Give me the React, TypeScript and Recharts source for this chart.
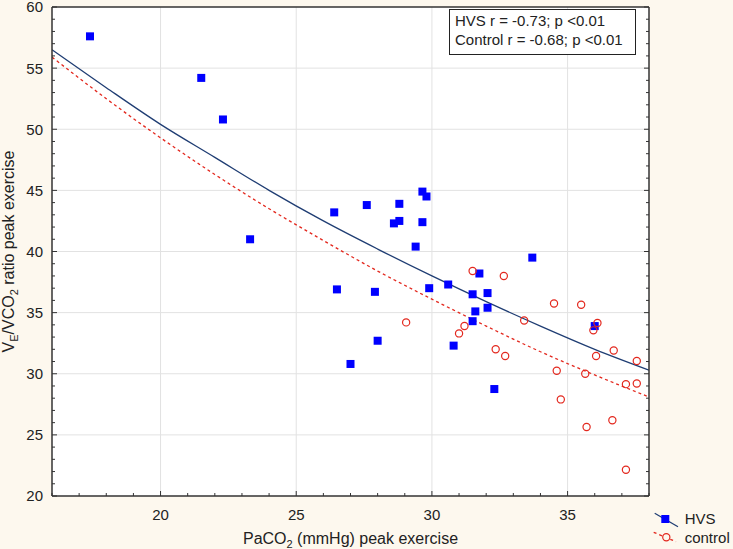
import * as React from "react";
import {
  ComposedChart,
  Scatter,
  Line,
  XAxis,
  YAxis,
  CartesianGrid,
  Legend,
} from "recharts";

// HVS patients (blue squares)
const hvsPaCO2 = [
  17.4, 21.5, 22.3, 23.3, 26.4, 27.6, 28.8, 28.6, 28.8, 29.65, 29.8, 29.65,
  29.4, 26.5, 27.9, 29.9, 30.6, 31.75, 31.5, 32.05, 31.6, 32.05, 31.5, 28.0,
  30.8, 27.0, 32.3, 33.7, 36.0,
];
const hvsRatio = [
  57.6, 54.2, 50.8, 41.0, 43.2, 43.8, 43.9, 42.3, 42.5, 44.9, 44.5, 42.4,
  40.4, 36.9, 36.7, 37.0, 37.3, 38.2, 36.5, 36.6, 35.1, 35.4, 34.3, 32.7,
  32.3, 30.8, 28.75, 39.5, 33.9,
];

// controls (red open circles)
const controlPaCO2 = [
  31.5, 29.05, 31.2, 31.0, 32.35, 32.65, 34.5, 35.5, 33.4, 36.1, 35.95, 36.7,
  32.7, 36.05, 37.55, 34.6, 35.65, 37.15, 37.55, 34.75, 36.65, 35.7, 37.15,
];
const controlRatio = [
  38.4, 34.2, 33.9, 33.3, 32.0, 38.0, 35.75, 35.65, 34.35, 34.15, 33.55, 31.9,
  31.45, 31.45, 31.05, 30.25, 30.0, 29.15, 29.2, 27.9, 26.2, 25.65, 22.15,
];

// fitted curves
const fitPaCO2 = [16, 18, 20, 22, 24, 26, 28, 30, 32, 34, 36, 38];
const hvsFit = [56.5, 53.4, 50.4, 47.7, 45.0, 42.5, 40.2, 38.0, 35.9, 33.9, 32.0, 30.3];
const controlFit = [55.9, 52.5, 49.3, 46.3, 43.5, 40.9, 38.4, 36.1, 33.9, 31.8, 29.9, 28.1];

const xLabelTicks = [20, 25, 30, 35];
const yLabelTicks = [20, 25, 30, 35, 40, 45, 50, 55, 60];
const xGrid = [20, 25, 30, 35];
const yGrid = [25, 30, 35, 40, 45, 50, 55];
const xMinorTicks = Array.from({ length: 23 }, (_, i) => 16 + i);
const yMinorTicks = Array.from({ length: 41 }, (_, i) => 20 + i);

const statLines = ["HVS r = -0.73; p <0.01", "Control r = -0.68; p <0.01"];

const FONT = "Arial, 'Liberation Sans', sans-serif";
const INK = "#222";
const AXIS = "#333";
const HVS_FILL = "#0000ff";
const HVS_LINE = "#1f3d73";
const CTRL = "#e3281e";

const hvsPoints = hvsPaCO2.map((x, i) => ({ x, y: hvsRatio[i] }));
const controlPoints = controlPaCO2.map((x, i) => ({ x, y: controlRatio[i] }));
const hvsCurve = fitPaCO2.map((x, i) => ({ x, y: hvsFit[i] }));
const controlCurve = fitPaCO2.map((x, i) => ({ x, y: controlFit[i] }));

const Square = (p: any) => (
  <rect x={p.cx - 4} y={p.cy - 4} width={8} height={8} fill={HVS_FILL} />
);
const Ring = (p: any) => (
  <circle cx={p.cx} cy={p.cy} r={3.6} fill="none" stroke={CTRL} strokeWidth={1.2} />
);

function BottomTick({ x, y, payload }: any) {
  const major = xLabelTicks.includes(payload.value);
  return (
    <g>
      <line x1={x} x2={x} y1={y} y2={y - (major ? 5 : 3)} stroke={AXIS} />
      {major && (
        <text x={x} y={y + 24} textAnchor="middle" fontSize={15} fontFamily={FONT} fill={INK}>
          {payload.value}
        </text>
      )}
    </g>
  );
}

function TopTick({ x, y, payload }: any) {
  const major = xLabelTicks.includes(payload.value);
  return <line x1={x} x2={x} y1={y} y2={y + (major ? 5 : 3)} stroke={AXIS} />;
}

function LeftTick({ x, y, payload }: any) {
  const major = yLabelTicks.includes(payload.value);
  return (
    <g>
      <line x1={x} x2={x + (major ? 5 : 3)} y1={y} y2={y} stroke={AXIS} />
      {major && (
        <text x={x - 9} y={y} dy="0.36em" textAnchor="end" fontSize={15} fontFamily={FONT} fill={INK}>
          {payload.value}
        </text>
      )}
    </g>
  );
}

function RightTick({ x, y, payload }: any) {
  const major = yLabelTicks.includes(payload.value);
  return <line x1={x} x2={x - (major ? 5 : 3)} y1={y} y2={y} stroke={AXIS} />;
}

function XTitle({ viewBox }: any) {
  const cx = viewBox.x + viewBox.width / 2;
  return (
    <text x={cx} y={viewBox.y + 47.5} textAnchor="middle" fontSize={16} fontFamily={FONT} fill={INK}>
      PaCO
      <tspan fontSize={11} dy={4}>2</tspan>
      <tspan dy={-4}> (mmHg) peak exercise</tspan>
    </text>
  );
}

function YTitle({ viewBox }: any) {
  const cy = viewBox.y + viewBox.height / 2;
  const tx = 13.5;
  return (
    <text
      x={tx}
      y={cy}
      transform={`rotate(-90, ${tx}, ${cy})`}
      textAnchor="middle"
      fontSize={16}
      fontFamily={FONT}
      fill={INK}
    >
      V
      <tspan fontSize={11} dy={4}>E</tspan>
      <tspan dy={-4}>/VCO</tspan>
      <tspan fontSize={11} dy={4}>2</tspan>
      <tspan dy={-4}> ratio peak exercise</tspan>
    </text>
  );
}

function SeriesLegend() {
  return (
    <svg width={83} height={42} style={{ display: "block" }}>
      <line x1={4.7} y1={5.3} x2={28} y2={18.7} stroke={HVS_LINE} strokeWidth={1.3} />
      <rect x={11.3} y={7} width={8} height={8} fill={HVS_FILL} />
      <text x={34.7} y={16} fontSize={15} fontFamily={FONT} fill={INK}>
        HVS
      </text>
      <line
        x1={3.7}
        y1={24.3}
        x2={26}
        y2={33.7}
        stroke={CTRL}
        strokeWidth={1.3}
        strokeDasharray="3 3"
      />
      <circle cx={16.3} cy={29.3} r={3.6} fill="#fdf8ee" stroke={CTRL} strokeWidth={1.2} />
      <text x={34.7} y={35} fontSize={15} fontFamily={FONT} fill={INK}>
        control
      </text>
    </svg>
  );
}

export default function App() {
  return (
    <div
      style={{
        position: "absolute",
        left: 0,
        top: 0,
        width: 733,
        height: 549,
        background: "#fdf8ee",
        fontFamily: FONT,
      }}
    >
      <ComposedChart
        width={733}
        height={549}
        margin={{ top: 0, right: 0, bottom: 0, left: 0 }}
      >
        <CartesianGrid
          fill="#ffffff"
          stroke="#e2e2e2"
          verticalValues={xGrid}
          horizontalValues={yGrid}
        />
        <XAxis
          type="number"
          dataKey="x"
          domain={[16, 38]}
          ticks={xMinorTicks}
          interval={0}
          height={53}
          tickSize={0}
          tickMargin={0}
          tickLine={false}
          tick={<BottomTick />}
          axisLine={{ stroke: AXIS, strokeWidth: 1.5 }}
          allowDataOverflow
          label={(p: any) => <XTitle viewBox={p.viewBox} />}
        />
        <XAxis
          xAxisId="top"
          orientation="top"
          type="number"
          domain={[16, 38]}
          ticks={xMinorTicks}
          interval={0}
          height={7}
          tickSize={0}
          tickMargin={0}
          tickLine={false}
          tick={<TopTick />}
          axisLine={{ stroke: AXIS, strokeWidth: 1.5 }}
          allowDataOverflow
        />
        <YAxis
          type="number"
          dataKey="y"
          domain={[20, 60]}
          ticks={yMinorTicks}
          interval={0}
          width={52}
          tickSize={0}
          tickMargin={0}
          tickLine={false}
          tick={<LeftTick />}
          axisLine={{ stroke: AXIS, strokeWidth: 1.5 }}
          allowDataOverflow
          label={(p: any) => <YTitle viewBox={p.viewBox} />}
        />
        <YAxis
          yAxisId="right"
          orientation="right"
          type="number"
          domain={[20, 60]}
          ticks={yMinorTicks}
          interval={0}
          width={84}
          tickSize={0}
          tickMargin={0}
          tickLine={false}
          tick={<RightTick />}
          axisLine={{ stroke: AXIS, strokeWidth: 1.5 }}
          allowDataOverflow
        />
        <Scatter
          name="HVS"
          data={hvsPoints}
          shape={Square}
          isAnimationActive={false}
        />
        <Line
          data={hvsCurve}
          dataKey="y"
          type="monotone"
          stroke={HVS_LINE}
          strokeWidth={1.3}
          dot={false}
          activeDot={false}
          legendType="none"
          isAnimationActive={false}
        />
        <Scatter
          name="control"
          data={controlPoints}
          shape={Ring}
          isAnimationActive={false}
        />
        <Line
          data={controlCurve}
          dataKey="y"
          type="monotone"
          stroke={CTRL}
          strokeWidth={1.3}
          strokeDasharray="3 3"
          dot={false}
          activeDot={false}
          legendType="none"
          isAnimationActive={false}
        />
        <Legend
          layout="vertical"
          align="center"
          verticalAlign="middle"
          content={() => <SeriesLegend />}
          wrapperStyle={{ left: 650, top: 508, width: 83, height: 42 }}
        />
      </ComposedChart>
      <div
        style={{
          position: "absolute",
          left: 449,
          top: 9,
          width: 187,
          height: 46,
          boxSizing: "border-box",
          border: "1px solid #222",
          background: "#ffffff",
          padding: "1px 0 0 5px",
          fontSize: 15,
          lineHeight: "19px",
          color: INK,
          whiteSpace: "nowrap",
        }}
      >
        {statLines.map((s) => (
          <div key={s}>{s}</div>
        ))}
      </div>
    </div>
  );
}
